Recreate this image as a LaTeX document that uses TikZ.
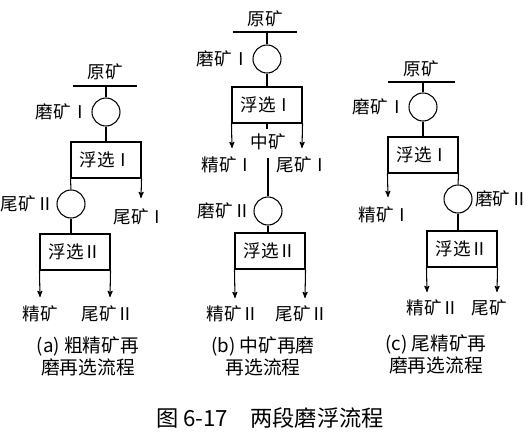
\documentclass[tikz,border=0pt]{standalone}
\usepackage{fontspec}
\setmainfont{Noto Sans CJK SC}
\usetikzlibrary{arrows,positioning}
\tikzset{
  flownode/.style = {align=center, inner sep=1pt, black, font=\fontsize{15}{17}\selectfont},
  mill_n/.style = {flownode, circle, draw, minimum size=0.84cm, inner sep=0pt},
  flot_n/.style = {flownode, rectangle, draw, minimum width=2.1cm, minimum height=1.08cm},
  lbl_n/.style = {flownode},
  cap_n/.style = {flownode, font=\fontsize{16}{19}\selectfont}
}

\begin{document}
\begin{tikzpicture}[x=0.03cm,y=-0.03cm,line width=0.9pt,>=stealth',
        	flow/.style={->,shorten >=0pt},
        	bar/.style={line width=1.1pt}]
  \useasboundingbox (0,0) rectangle (532,441);
  % (a) rougher concentrate regrind
  \node [lbl_n] (a_feed) at (105,72) {原矿};
  \coordinate (a_bl) at (73,86);
  \coordinate (a_br) at (137,86);
  \draw [bar] (a_bl) -- (a_br);
  \node [mill_n] (a_mill1) at (106,112) {};
  \node [lbl_n, left=1pt of a_mill1] {磨矿Ⅰ};
  \node [flot_n] (a_flot1) at (106,160) {浮选Ⅰ};
  \node [mill_n] (a_mill2) at (71,204) {};
  \node [lbl_n, left=1pt of a_mill2] {尾矿Ⅱ};
  \node [flot_n] (a_flot2) at (75,252) {浮选Ⅱ};
  \coordinate (a_t1) at (141,198);
  \node [lbl_n] (a_tail1) at (140,217) {尾矿Ⅰ};
  \coordinate (a_c2) at (40,297);
  \coordinate (a_t2) at (110,297);
  \node [lbl_n] (a_conc) at (40,314) {精矿};
  \node [lbl_n] (a_tail2) at (108,314) {尾矿Ⅱ};
  \draw (a_mill1.north) -- (a_mill1.north |- a_bl);
  \draw (a_mill1) -- (a_flot1);
  \draw [flow] (a_flot1.south east) -- (a_t1);
  \draw (a_flot1.south west) -- (a_mill2.north);
  \draw (a_mill2.south) -- (a_mill2.south |- a_flot2.north);
  \draw [flow] (a_flot2.south west) -- (a_c2);
  \draw [flow] (a_flot2.south east) -- (a_t2);
  \node [cap_n] (a_cap) at (88,356) {(a) 粗精矿再\\磨再选流程};

  % (b) middlings regrind
  \node [lbl_n] (b_feed) at (265,19) {原矿};
  \coordinate (b_bl) at (233,32);
  \coordinate (b_br) at (297,32);
  \draw [bar] (b_bl) -- (b_br);
  \node [mill_n] (b_mill1) at (267,59) {};
  \node [lbl_n, left=1pt of b_mill1] {磨矿Ⅰ};
  \node [flot_n] (b_flot1) at (267,105) {浮选Ⅰ};
  \coordinate (b_c1) at (232,148);
  \coordinate (b_t1) at (302,148);
  \coordinate (b_stub) at (267,129);
  \node [lbl_n] (b_mid) at (268,142) {中矿};
  \node [lbl_n] (b_conc1) at (228,165) {精矿Ⅰ};
  \node [lbl_n] (b_tail1) at (303,165) {尾矿Ⅰ};
  \coordinate (b_m) at (268,158);
  \node [mill_n] (b_mill2) at (268,211) {};
  \node [lbl_n, left=1pt of b_mill2] {磨矿Ⅱ};
  \node [flot_n] (b_flot2) at (270,251) {浮选Ⅱ};
  \coordinate (b_c2) at (235,298);
  \coordinate (b_t2) at (305,298);
  \node [lbl_n] (b_conc2) at (233,314) {精矿Ⅱ};
  \node [lbl_n] (b_tail2) at (302,314) {尾矿Ⅱ};
  \draw (b_mill1.north) -- (b_mill1.north |- b_bl);
  \draw (b_mill1) -- (b_flot1);
  \draw [flow] (b_flot1.south west) -- (b_c1);
  \draw [flow] (b_flot1.south east) -- (b_t1);
  \draw (b_flot1.south) -- (b_stub);
  \draw (b_m) -- (b_mill2.north);
  \draw (b_mill2.south) -- (b_mill2.south |- b_flot2.north);
  \draw [flow] (b_flot2.south west) -- (b_c2);
  \draw [flow] (b_flot2.south east) -- (b_t2);
  \node [cap_n] (b_cap) at (263,356) {(b) 中矿再磨\\再选流程};

  % (c) tailings regrind
  \node [lbl_n] (c_feed) at (421,69) {原矿};
  \coordinate (c_bl) at (388,82);
  \coordinate (c_br) at (455,82);
  \draw [bar] (c_bl) -- (c_br);
  \node [mill_n] (c_mill1) at (423,107) {};
  \node [lbl_n, left=1pt of c_mill1] {磨矿Ⅰ};
  \node [flot_n] (c_flot1) at (423,155) {浮选Ⅰ};
  \coordinate (c_c1) at (388,197);
  \node [lbl_n] (c_conc1) at (385,215) {精矿Ⅰ};
  \node [mill_n] (c_mill2) at (458,199) {};
  \node [lbl_n, right=1pt of c_mill2] {磨矿Ⅱ};
  \node [flot_n] (c_flot2) at (462,249) {浮选Ⅱ};
  \coordinate (c_c2) at (427,292);
  \coordinate (c_t2) at (497,292);
  \node [lbl_n] (c_conc2) at (433,308) {精矿Ⅱ};
  \node [lbl_n] (c_tail) at (489,308) {尾矿};
  \draw (c_mill1.north) -- (c_mill1.north |- c_bl);
  \draw (c_mill1) -- (c_flot1);
  \draw [flow] (c_flot1.south west) -- (c_c1);
  \draw (c_flot1.south east) -- (c_mill2.north);
  \draw (c_mill2.south) -- (c_mill2.south |- c_flot2.north);
  \draw [flow] (c_flot2.south west) -- (c_c2);
  \draw [flow] (c_flot2.south east) -- (c_t2);
  \node [cap_n] (c_cap) at (436,354) {(c) 尾精矿再\\磨再选流程};

  \node [flownode, font=\fontsize{19}{22}\selectfont] (title) at (270,418) {图 6-17\quad 两段磨浮流程};
\end{tikzpicture}
\end{document}
